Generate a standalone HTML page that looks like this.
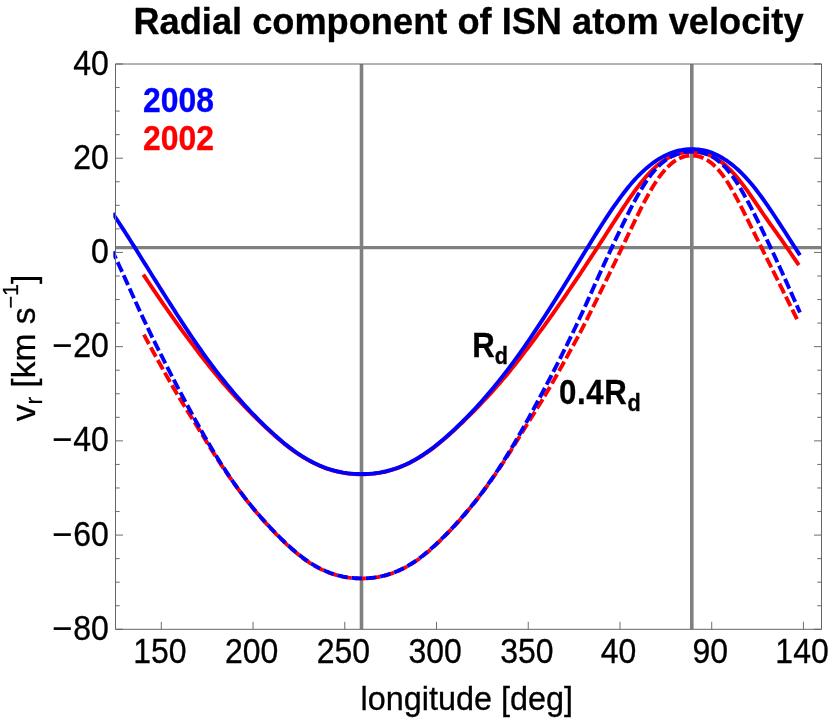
<!DOCTYPE html>
<html><head><meta charset="utf-8"><title>Radial component of ISN atom velocity</title>
<style>
html,body{margin:0;padding:0;background:#fff;}
body{width:830px;height:720px;position:relative;overflow:hidden;font-family:"Liberation Sans",sans-serif;color:#000;will-change:transform;}
svg{position:absolute;left:0;top:0;}
.t{position:absolute;line-height:1;white-space:nowrap;transform-origin:50% 84.65%;-webkit-text-stroke:0.3px currentColor;}
</style></head><body>
<svg width="830" height="720" viewBox="0 0 830 720">
<defs><clipPath id="cl"><rect x="113.3" y="0" width="720" height="720"/></clipPath></defs>
<line x1="361.50" y1="64.0" x2="361.50" y2="629.3" stroke="#808080" stroke-width="3.6"/>
<line x1="691.80" y1="64.0" x2="691.80" y2="629.3" stroke="#808080" stroke-width="3.6"/>
<line x1="115.5" y1="247.72" x2="821.5" y2="247.72" stroke="#808080" stroke-width="3.2"/>
<path d="M143.32,274.59 L145.37,277.66 L147.43,280.72 L149.48,283.77 L151.54,286.81 L153.59,289.84 L155.65,292.85 L157.70,295.86 L159.76,298.85 L161.81,301.83 L163.87,304.80 L165.92,307.76 L167.98,310.70 L170.03,313.62 L172.09,316.53 L174.14,319.42 L176.20,322.29 L178.25,325.15 L180.31,327.98 L182.36,330.80 L184.42,333.60 L186.47,336.38 L188.53,339.15 L190.58,341.90 L192.64,344.64 L194.69,347.36 L196.75,350.08 L198.80,352.78 L200.86,355.46 L202.91,358.13 L204.97,360.78 L207.02,363.41 L209.08,366.01 L211.13,368.59 L213.19,371.13 L215.24,373.64 L217.30,376.12 L219.35,378.57 L221.41,380.98 L223.46,383.37 L225.52,385.73 L227.57,388.06 L229.63,390.36 L231.68,392.64 L233.74,394.90 L235.79,397.14 L237.85,399.35 L239.90,401.54 L241.96,403.72 L244.01,405.87 L246.07,408.00 L248.12,410.11 L250.18,412.20 L252.23,414.27 L254.29,416.33 L256.34,418.36 L258.40,420.37 L260.45,422.36 L262.51,424.33 L264.56,426.28 L266.62,428.21 L268.67,430.11 L270.73,431.99 L272.78,433.85 L274.84,435.68 L276.89,437.48 L278.95,439.26 L281.00,441.00 L283.06,442.70 L285.11,444.37 L287.17,446.00 L289.22,447.59 L291.28,449.14 L293.33,450.64 L295.39,452.09 L297.44,453.51 L299.50,454.88 L301.55,456.20 L303.61,457.47 L305.66,458.70 L307.72,459.88 L309.77,461.01 L311.83,462.09 L313.88,463.12 L315.94,464.11 L317.99,465.05 L320.05,465.94 L322.10,466.78 L324.16,467.58 L326.21,468.33 L328.27,469.03 L330.32,469.69 L332.38,470.30 L334.43,470.87 L336.49,471.39 L338.54,471.86 L340.60,472.29 L342.65,472.68 L344.71,473.02 L346.76,473.32 L348.82,473.57 L350.87,473.79 L352.93,473.96 L354.98,474.10 L357.04,474.20 L359.09,474.26 L361.15,474.28 L363.20,474.27 L365.26,474.22 L367.31,474.13 L369.37,474.01 L371.42,473.85 L373.48,473.65 L375.53,473.40 L377.59,473.12 L379.64,472.79 L381.70,472.42 L383.75,472.00 L385.81,471.54 L387.86,471.03 L389.92,470.48 L391.97,469.89 L394.03,469.24 L396.08,468.55 L398.14,467.82 L400.19,467.04 L402.25,466.21 L404.30,465.33 L406.36,464.41 L408.41,463.43 L410.47,462.41 L412.52,461.35 L414.58,460.23 L416.63,459.07 L418.69,457.86 L420.74,456.60 L422.80,455.29 L424.85,453.94 L426.91,452.54 L428.96,451.09 L431.02,449.61 L433.07,448.07 L435.13,446.50 L437.18,444.88 L439.24,443.22 L441.29,441.53 L443.35,439.80 L445.40,438.04 L447.46,436.24 L449.51,434.42 L451.57,432.57 L453.62,430.69 L455.68,428.80 L457.73,426.88 L459.79,424.94 L461.84,422.97 L463.90,420.99 L465.95,418.98 L468.01,416.96 L470.06,414.91 L472.12,412.85 L474.17,410.76 L476.23,408.66 L478.28,406.53 L480.34,404.38 L482.39,402.22 L484.45,400.03 L486.50,397.82 L488.56,395.59 L490.61,393.34 L492.67,391.07 L494.72,388.77 L496.78,386.45 L498.83,384.10 L500.89,381.73 L502.94,379.32 L505.00,376.88 L507.05,374.42 L509.11,371.91 L511.16,369.38 L513.22,366.81 L515.27,364.22 L517.33,361.60 L519.38,358.95 L521.44,356.29 L523.49,353.61 L525.55,350.91 L527.60,348.20 L529.66,345.48 L531.71,342.75 L533.77,340.00 L535.82,337.24 L537.88,334.46 L539.93,331.67 L541.99,328.86 L544.04,326.03 L546.10,323.18 L548.15,320.31 L550.21,317.43 L552.26,314.52 L554.32,311.60 L556.37,308.67 L558.43,305.72 L560.48,302.75 L562.54,299.78 L564.59,296.79 L566.65,293.78 L568.70,290.77 L570.76,287.75 L572.81,284.71 L574.87,281.66 L576.92,278.61 L578.98,275.54 L581.03,272.46 L583.09,269.37 L585.14,266.27 L587.20,263.16 L589.25,260.04 L591.31,256.91 L593.36,253.77 L595.42,250.62 L597.47,247.46 L599.53,244.30 L601.58,241.12 L603.64,237.94 L605.69,234.75 L607.75,231.56 L609.80,228.37 L611.86,225.18 L613.91,222.00 L615.97,218.83 L618.02,215.67 L620.08,212.52 L622.13,209.39 L624.19,206.29 L626.24,203.22 L628.29,200.19 L630.35,197.21 L632.40,194.28 L634.46,191.41 L636.51,188.61 L638.57,185.88 L640.62,183.24 L642.68,180.67 L644.73,178.20 L646.79,175.83 L648.84,173.56 L650.90,171.39 L652.95,169.34 L655.01,167.41 L657.06,165.60 L659.12,163.91 L661.17,162.34 L663.23,160.89 L665.28,159.56 L667.34,158.34 L669.39,157.23 L671.45,156.23 L673.50,155.34 L675.56,154.56 L677.61,153.88 L679.67,153.30 L681.72,152.82 L683.78,152.44 L685.83,152.15 L687.89,151.95 L689.94,151.83 L692.00,151.80 L694.05,151.81 L696.11,151.93 L698.16,152.14 L700.22,152.45 L702.27,152.86 L704.33,153.38 L706.38,154.01 L708.44,154.74 L710.49,155.59 L712.55,156.55 L714.60,157.63 L716.66,158.82 L718.71,160.14 L720.77,161.58 L722.82,163.13 L724.88,164.82 L726.93,166.63 L728.99,168.56 L731.04,170.63 L733.10,172.81 L735.15,175.11 L737.21,177.51 L739.26,180.02 L741.32,182.62 L743.37,185.31 L745.43,188.08 L747.48,190.92 L749.54,193.83 L751.59,196.79 L753.65,199.80 L755.70,202.83 L757.76,205.88 L759.81,208.93 L761.87,211.97 L763.92,214.99 L765.98,217.97 L768.03,220.92 L770.09,223.83 L772.14,226.72 L774.20,229.60 L776.25,232.47 L778.31,235.35 L780.36,238.23 L782.42,241.14 L784.47,244.07 L786.53,247.03 L788.58,250.02 L790.64,253.02 L792.69,256.05 L794.75,259.09 L796.80,262.14 L798.86,265.19" fill="none" stroke="#ff0000" stroke-width="3.9"/>
<path d="M143.32,333.54 L145.37,337.41 L147.43,341.24 L149.48,345.02 L151.54,348.77 L153.59,352.50 L155.65,356.20 L157.70,359.90 L159.76,363.58 L161.81,367.26 L163.87,370.93 L165.92,374.59 L167.98,378.23 L170.03,381.84 L172.09,385.43 L174.14,388.98 L176.20,392.48 L178.25,395.94 L180.31,399.35 L182.36,402.72 L184.42,406.05 L186.47,409.36 L188.53,412.65 L190.58,415.93 L192.64,419.20 L194.69,422.49 L196.75,425.80 L198.80,429.12 L200.86,432.46 L202.91,435.80 L204.97,439.15 L207.02,442.49 L209.08,445.81 L211.13,449.12 L213.19,452.39 L215.24,455.63 L217.30,458.83 L219.35,461.98 L221.41,465.10 L223.46,468.18 L225.52,471.22 L227.57,474.22 L229.63,477.19 L231.68,480.12 L233.74,483.02 L235.79,485.88 L237.85,488.70 L239.90,491.49 L241.96,494.23 L244.01,496.94 L246.07,499.61 L248.12,502.23 L250.18,504.81 L252.23,507.34 L254.29,509.83 L256.34,512.27 L258.40,514.68 L260.45,517.04 L262.51,519.37 L264.56,521.66 L266.62,523.92 L268.67,526.15 L270.73,528.34 L272.78,530.52 L274.84,532.66 L276.89,534.77 L278.95,536.85 L281.00,538.89 L283.06,540.90 L285.11,542.87 L287.17,544.80 L289.22,546.69 L291.28,548.54 L293.33,550.34 L295.39,552.10 L297.44,553.80 L299.50,555.46 L301.55,557.05 L303.61,558.59 L305.66,560.07 L307.72,561.48 L309.77,562.83 L311.83,564.12 L313.88,565.35 L315.94,566.51 L317.99,567.62 L320.05,568.66 L322.10,569.66 L324.16,570.59 L326.21,571.47 L328.27,572.30 L330.32,573.07 L332.38,573.79 L334.43,574.46 L336.49,575.07 L338.54,575.63 L340.60,576.13 L342.65,576.58 L344.71,576.98 L346.76,577.33 L348.82,577.63 L350.87,577.88 L352.93,578.08 L354.98,578.23 L357.04,578.35 L359.09,578.41 L361.15,578.44 L363.20,578.43 L365.26,578.37 L367.31,578.27 L369.37,578.13 L371.42,577.95 L373.48,577.71 L375.53,577.43 L377.59,577.10 L379.64,576.71 L381.70,576.28 L383.75,575.79 L385.81,575.25 L387.86,574.65 L389.92,574.00 L391.97,573.30 L394.03,572.54 L396.08,571.73 L398.14,570.87 L400.19,569.95 L402.25,568.98 L404.30,567.95 L406.36,566.86 L408.41,565.71 L410.47,564.51 L412.52,563.24 L414.58,561.91 L416.63,560.51 L418.69,559.06 L420.74,557.54 L422.80,555.96 L424.85,554.32 L426.91,552.63 L428.96,550.89 L431.02,549.10 L433.07,547.27 L435.13,545.39 L437.18,543.47 L439.24,541.51 L441.29,539.51 L443.35,537.48 L445.40,535.41 L447.46,533.31 L449.51,531.18 L451.57,529.02 L453.62,526.83 L455.68,524.61 L457.73,522.36 L459.79,520.08 L461.84,517.76 L463.90,515.41 L465.95,513.02 L468.01,510.59 L470.06,508.12 L472.12,505.60 L474.17,503.03 L476.23,500.42 L478.28,497.77 L480.34,495.08 L482.39,492.34 L484.45,489.57 L486.50,486.75 L488.56,483.90 L490.61,481.02 L492.67,478.10 L494.72,475.15 L496.78,472.15 L498.83,469.12 L500.89,466.06 L502.94,462.95 L505.00,459.81 L507.05,456.62 L509.11,453.40 L511.16,450.13 L513.22,446.84 L515.27,443.52 L517.33,440.19 L519.38,436.84 L521.44,433.49 L523.49,430.15 L525.55,426.82 L527.60,423.51 L529.66,420.22 L531.71,416.94 L533.77,413.66 L535.82,410.38 L537.88,407.08 L539.93,403.75 L541.99,400.40 L544.04,397.00 L546.10,393.56 L548.15,390.07 L550.21,386.53 L552.26,382.96 L554.32,379.35 L556.37,375.72 L558.43,372.06 L560.48,368.40 L562.54,364.72 L564.59,361.04 L566.65,357.35 L568.70,353.65 L570.76,349.93 L572.81,346.19 L574.87,342.41 L576.92,338.60 L578.98,334.74 L581.03,330.84 L583.09,326.88 L585.14,322.86 L587.20,318.80 L589.25,314.70 L591.31,310.57 L593.36,306.42 L595.42,302.24 L597.47,298.06 L599.53,293.87 L601.58,289.69 L603.64,285.50 L605.69,281.32 L607.75,277.13 L609.80,272.94 L611.86,268.73 L613.91,264.51 L615.97,260.27 L618.02,256.01 L620.08,251.73 L622.13,247.42 L624.19,243.11 L626.24,238.79 L628.29,234.48 L630.35,230.18 L632.40,225.90 L634.46,221.65 L636.51,217.44 L638.57,213.27 L640.62,209.16 L642.68,205.12 L644.73,201.17 L646.79,197.32 L648.84,193.59 L650.90,189.99 L652.95,186.54 L655.01,183.25 L657.06,180.14 L659.12,177.20 L661.17,174.45 L663.23,171.88 L665.28,169.50 L667.34,167.31 L669.39,165.31 L671.45,163.50 L673.50,161.90 L675.56,160.49 L677.61,159.27 L679.67,158.24 L681.72,157.39 L683.78,156.71 L685.83,156.20 L687.89,155.85 L689.94,155.65 L692.00,155.60 L694.05,155.69 L696.11,155.93 L698.16,156.32 L700.22,156.87 L702.27,157.59 L704.33,158.49 L706.38,159.58 L708.44,160.85 L710.49,162.33 L712.55,164.01 L714.60,165.89 L716.66,167.97 L718.71,170.25 L720.77,172.73 L722.82,175.41 L724.88,178.27 L726.93,181.33 L728.99,184.58 L731.04,188.01 L733.10,191.60 L735.15,195.33 L737.21,199.18 L739.26,203.13 L741.32,207.16 L743.37,211.24 L745.43,215.36 L747.48,219.49 L749.54,223.62 L751.59,227.75 L753.65,231.88 L755.70,236.01 L757.76,240.14 L759.81,244.27 L761.87,248.40 L763.92,252.52 L765.98,256.64 L768.03,260.76 L770.09,264.88 L772.14,269.00 L774.20,273.12 L776.25,277.25 L778.31,281.38 L780.36,285.52 L782.42,289.67 L784.47,293.83 L786.53,297.99 L788.58,302.15 L790.64,306.31 L792.69,310.45 L794.75,314.56 L796.80,318.65 L798.86,322.69" fill="none" stroke="#ff0000" stroke-width="3.9" stroke-dasharray="10.7 3.77" stroke-dashoffset="13.27"/>
<path d="M112.68,213.29 L114.83,216.49 L116.99,219.73 L119.14,223.01 L121.30,226.32 L123.45,229.65 L125.61,233.01 L127.76,236.40 L129.92,239.80 L132.07,243.21 L134.23,246.64 L136.38,250.08 L138.53,253.53 L140.69,256.98 L142.84,260.43 L145.00,263.89 L147.15,267.34 L149.31,270.79 L151.46,274.24 L153.62,277.68 L155.77,281.12 L157.92,284.55 L160.08,287.97 L162.23,291.38 L164.39,294.78 L166.54,298.17 L168.70,301.55 L170.85,304.92 L173.01,308.27 L175.16,311.61 L177.31,314.94 L179.47,318.26 L181.62,321.57 L183.78,324.86 L185.93,328.12 L188.09,331.36 L190.24,334.58 L192.40,337.77 L194.55,340.93 L196.71,344.06 L198.86,347.17 L201.01,350.24 L203.17,353.28 L205.32,356.29 L207.48,359.27 L209.63,362.21 L211.79,365.11 L213.94,367.98 L216.10,370.81 L218.25,373.61 L220.40,376.36 L222.56,379.08 L224.71,381.77 L226.87,384.42 L229.02,387.04 L231.18,389.62 L233.33,392.18 L235.49,394.70 L237.64,397.19 L239.79,399.65 L241.95,402.08 L244.10,404.47 L246.26,406.83 L248.41,409.16 L250.57,411.46 L252.72,413.72 L254.88,415.95 L257.03,418.15 L259.18,420.31 L261.34,422.45 L263.49,424.55 L265.65,426.63 L267.80,428.67 L269.96,430.69 L272.11,432.68 L274.27,434.64 L276.42,436.56 L278.58,438.45 L280.73,440.31 L282.88,442.12 L285.04,443.89 L287.19,445.62 L289.35,447.29 L291.50,448.92 L293.66,450.50 L295.81,452.03 L297.97,453.52 L300.12,454.95 L302.27,456.33 L304.43,457.66 L306.58,458.93 L308.74,460.16 L310.89,461.33 L313.05,462.45 L315.20,463.52 L317.36,464.53 L319.51,465.49 L321.66,466.40 L323.82,467.25 L325.97,468.05 L328.13,468.79 L330.28,469.49 L332.44,470.13 L334.59,470.72 L336.75,471.26 L338.90,471.74 L341.06,472.18 L343.21,472.58 L345.36,472.92 L347.52,473.22 L349.67,473.47 L351.83,473.67 L353.98,473.84 L356.14,473.96 L358.29,474.04 L360.45,474.08 L362.60,474.07 L364.75,474.03 L366.91,473.95 L369.06,473.83 L371.22,473.66 L373.37,473.46 L375.53,473.20 L377.68,472.90 L379.84,472.56 L381.99,472.16 L384.14,471.72 L386.30,471.23 L388.45,470.69 L390.61,470.10 L392.76,469.45 L394.92,468.76 L397.07,468.01 L399.23,467.21 L401.38,466.35 L403.54,465.44 L405.69,464.48 L407.84,463.46 L410.00,462.39 L412.15,461.27 L414.31,460.09 L416.46,458.87 L418.62,457.59 L420.77,456.26 L422.93,454.87 L425.08,453.44 L427.23,451.95 L429.39,450.42 L431.54,448.84 L433.70,447.21 L435.85,445.53 L438.01,443.80 L440.16,442.02 L442.32,440.21 L444.47,438.36 L446.62,436.46 L448.78,434.54 L450.93,432.58 L453.09,430.58 L455.24,428.57 L457.40,426.52 L459.55,424.44 L461.71,422.34 L463.86,420.20 L466.01,418.03 L468.17,415.83 L470.32,413.60 L472.48,411.34 L474.63,409.04 L476.79,406.71 L478.94,404.34 L481.10,401.95 L483.25,399.52 L485.41,397.06 L487.56,394.57 L489.71,392.04 L491.87,389.49 L494.02,386.90 L496.18,384.28 L498.33,381.63 L500.49,378.94 L502.64,376.22 L504.80,373.46 L506.95,370.66 L509.10,367.83 L511.26,364.96 L513.41,362.05 L515.57,359.11 L517.72,356.13 L519.88,353.12 L522.03,350.08 L524.19,347.01 L526.34,343.90 L528.49,340.76 L530.65,337.60 L532.80,334.41 L534.96,331.19 L537.11,327.95 L539.27,324.69 L541.42,321.40 L543.58,318.09 L545.73,314.76 L547.89,311.41 L550.04,308.04 L552.19,304.66 L554.35,301.26 L556.50,297.84 L558.66,294.41 L560.81,290.96 L562.97,287.50 L565.12,284.03 L567.28,280.54 L569.43,277.05 L571.58,273.55 L573.74,270.04 L575.89,266.52 L578.05,263.01 L580.20,259.49 L582.36,255.97 L584.51,252.46 L586.67,248.95 L588.82,245.45 L590.97,241.96 L593.13,238.48 L595.28,235.03 L597.44,231.59 L599.59,228.19 L601.75,224.80 L603.90,221.46 L606.06,218.14 L608.21,214.87 L610.36,211.65 L612.52,208.47 L614.67,205.35 L616.83,202.29 L618.98,199.29 L621.14,196.36 L623.29,193.50 L625.45,190.71 L627.60,188.01 L629.76,185.38 L631.91,182.85 L634.06,180.40 L636.22,178.04 L638.37,175.78 L640.53,173.62 L642.68,171.56 L644.84,169.58 L646.99,167.71 L649.15,165.92 L651.30,164.23 L653.45,162.63 L655.61,161.11 L657.76,159.69 L659.92,158.36 L662.07,157.11 L664.23,155.96 L666.38,154.90 L668.54,153.93 L670.69,153.06 L672.84,152.27 L675.00,151.59 L677.15,150.99 L679.31,150.49 L681.46,150.07 L683.62,149.74 L685.77,149.49 L687.93,149.31 L690.08,149.22 L692.24,149.19 L694.39,149.22 L696.54,149.33 L698.70,149.53 L700.85,149.82 L703.01,150.20 L705.16,150.67 L707.32,151.24 L709.47,151.90 L711.63,152.67 L713.78,153.53 L715.93,154.49 L718.09,155.55 L720.24,156.70 L722.40,157.95 L724.55,159.29 L726.71,160.72 L728.86,162.25 L731.02,163.87 L733.17,165.57 L735.32,167.38 L737.48,169.27 L739.63,171.27 L741.79,173.36 L743.94,175.55 L746.10,177.84 L748.25,180.24 L750.41,182.73 L752.56,185.32 L754.72,188.00 L756.87,190.76 L759.02,193.61 L761.18,196.52 L763.33,199.51 L765.49,202.55 L767.64,205.66 L769.80,208.81 L771.95,212.01 L774.11,215.25 L776.26,218.52 L778.41,221.82 L780.57,225.13 L782.72,228.46 L784.88,231.79 L787.03,235.13 L789.19,238.48 L791.34,241.82 L793.50,245.18 L795.65,248.54 L797.80,251.91 L799.96,255.28" fill="none" stroke="#0000ff" stroke-width="3.9" clip-path="url(#cl)"/>
<path d="M112.68,251.63 L114.83,256.22 L116.99,260.84 L119.14,265.49 L121.30,270.18 L123.45,274.89 L125.61,279.64 L127.76,284.42 L129.92,289.20 L132.07,293.99 L134.23,298.77 L136.38,303.53 L138.53,308.25 L140.69,312.94 L142.84,317.57 L145.00,322.14 L147.15,326.67 L149.31,331.15 L151.46,335.59 L153.62,339.98 L155.77,344.34 L157.92,348.67 L160.08,352.97 L162.23,357.24 L164.39,361.48 L166.54,365.70 L168.70,369.90 L170.85,374.08 L173.01,378.25 L175.16,382.39 L177.31,386.53 L179.47,390.62 L181.62,394.69 L183.78,398.73 L185.93,402.75 L188.09,406.75 L190.24,410.72 L192.40,414.66 L194.55,418.57 L196.71,422.46 L198.86,426.32 L201.01,430.15 L203.17,433.94 L205.32,437.69 L207.48,441.41 L209.63,445.08 L211.79,448.71 L213.94,452.29 L216.10,455.82 L218.25,459.30 L220.40,462.72 L222.56,466.10 L224.71,469.42 L226.87,472.69 L229.02,475.90 L231.18,479.05 L233.33,482.15 L235.49,485.19 L237.64,488.18 L239.79,491.11 L241.95,493.99 L244.10,496.81 L246.26,499.59 L248.41,502.32 L250.57,505.00 L252.72,507.63 L254.88,510.22 L257.03,512.76 L259.18,515.27 L261.34,517.73 L263.49,520.16 L265.65,522.54 L267.80,524.90 L269.96,527.22 L272.11,529.51 L274.27,531.77 L276.42,533.99 L278.58,536.18 L280.73,538.33 L282.88,540.44 L285.04,542.50 L287.19,544.52 L289.35,546.50 L291.50,548.43 L293.66,550.31 L295.81,552.13 L297.97,553.91 L300.12,555.62 L302.27,557.28 L304.43,558.88 L306.58,560.41 L308.74,561.88 L310.89,563.28 L313.05,564.62 L315.20,565.90 L317.36,567.10 L319.51,568.25 L321.66,569.32 L323.82,570.33 L325.97,571.28 L328.13,572.16 L330.28,572.98 L332.44,573.73 L334.59,574.42 L336.75,575.06 L338.90,575.63 L341.06,576.14 L343.21,576.60 L345.36,577.00 L347.52,577.34 L349.67,577.63 L351.83,577.87 L353.98,578.06 L356.14,578.20 L358.29,578.29 L360.45,578.33 L362.60,578.33 L364.75,578.29 L366.91,578.19 L369.06,578.05 L371.22,577.86 L373.37,577.62 L375.53,577.33 L377.68,576.98 L379.84,576.58 L381.99,576.12 L384.14,575.60 L386.30,575.02 L388.45,574.39 L390.61,573.69 L392.76,572.94 L394.92,572.12 L397.07,571.23 L399.23,570.28 L401.38,569.27 L403.54,568.19 L405.69,567.04 L407.84,565.83 L410.00,564.55 L412.15,563.21 L414.31,561.80 L416.46,560.33 L418.62,558.79 L420.77,557.19 L422.93,555.53 L425.08,553.81 L427.23,552.04 L429.39,550.21 L431.54,548.33 L433.70,546.40 L435.85,544.42 L438.01,542.39 L440.16,540.33 L442.32,538.22 L444.47,536.07 L446.62,533.88 L448.78,531.65 L450.93,529.39 L453.09,527.10 L455.24,524.78 L457.40,522.42 L459.55,520.03 L461.71,517.60 L463.86,515.13 L466.01,512.63 L468.17,510.08 L470.32,507.49 L472.48,504.86 L474.63,502.17 L476.79,499.44 L478.94,496.67 L481.10,493.84 L483.25,490.96 L485.41,488.02 L487.56,485.03 L489.71,481.99 L491.87,478.89 L494.02,475.73 L496.18,472.51 L498.33,469.24 L500.49,465.92 L502.64,462.54 L504.80,459.11 L506.95,455.63 L509.10,452.10 L511.26,448.52 L513.41,444.89 L515.57,441.21 L517.72,437.49 L519.88,433.74 L522.03,429.94 L524.19,426.12 L526.34,422.26 L528.49,418.37 L530.65,414.45 L532.80,410.51 L534.96,406.53 L537.11,402.54 L539.27,398.52 L541.42,394.47 L543.58,390.41 L545.73,386.32 L547.89,382.21 L550.04,378.08 L552.19,373.92 L554.35,369.74 L556.50,365.53 L558.66,361.30 L560.81,357.04 L562.97,352.74 L565.12,348.42 L567.28,344.06 L569.43,339.67 L571.58,335.23 L573.74,330.76 L575.89,326.24 L578.05,321.67 L580.20,317.05 L582.36,312.38 L584.51,307.65 L586.67,302.89 L588.82,298.09 L590.97,293.28 L593.13,288.45 L595.28,283.64 L597.44,278.83 L599.59,274.05 L601.75,269.30 L603.90,264.59 L606.06,259.92 L608.21,255.27 L610.36,250.66 L612.52,246.06 L614.67,241.50 L616.83,236.95 L618.98,232.43 L621.14,227.92 L623.29,223.45 L625.45,219.03 L627.60,214.68 L629.76,210.39 L631.91,206.20 L634.06,202.11 L636.22,198.13 L638.37,194.28 L640.53,190.57 L642.68,187.01 L644.84,183.60 L646.99,180.36 L649.15,177.29 L651.30,174.41 L653.45,171.71 L655.61,169.22 L657.76,166.92 L659.92,164.82 L662.07,162.91 L664.23,161.18 L666.38,159.61 L668.54,158.21 L670.69,156.95 L672.84,155.85 L675.00,154.87 L677.15,154.03 L679.31,153.32 L681.46,152.73 L683.62,152.26 L685.77,151.90 L687.93,151.66 L690.08,151.53 L692.24,151.49 L694.39,151.50 L696.54,151.64 L698.70,151.92 L700.85,152.32 L703.01,152.86 L705.16,153.53 L707.32,154.35 L709.47,155.31 L711.63,156.42 L713.78,157.68 L715.93,159.10 L718.09,160.69 L720.24,162.46 L722.40,164.41 L724.55,166.55 L726.71,168.89 L728.86,171.44 L731.02,174.19 L733.17,177.15 L735.32,180.29 L737.48,183.60 L739.63,187.07 L741.79,190.69 L743.94,194.44 L746.10,198.31 L748.25,202.29 L750.41,206.37 L752.56,210.53 L754.72,214.77 L756.87,219.08 L759.02,223.45 L761.18,227.87 L763.33,232.33 L765.49,236.82 L767.64,241.33 L769.80,245.87 L771.95,250.44 L774.11,255.04 L776.26,259.68 L778.41,264.34 L780.57,269.05 L782.72,273.80 L784.88,278.59 L787.03,283.41 L789.19,288.26 L791.34,293.12 L793.50,297.98 L795.65,302.82 L797.80,307.64 L799.96,312.43" fill="none" stroke="#0000ff" stroke-width="3.9" stroke-dasharray="10.7 3.77" stroke-dashoffset="2.85" clip-path="url(#cl)"/>
<line x1="115.5" y1="64.0" x2="115.5" y2="629.3" stroke="#666666" stroke-width="1"/>
<line x1="821.5" y1="64.0" x2="821.5" y2="629.3" stroke="#666666" stroke-width="1"/>
<line x1="115.5" y1="64.0" x2="821.5" y2="64.0" stroke="#666666" stroke-width="1"/>
<line x1="115.5" y1="629.3" x2="821.5" y2="629.3" stroke="#666666" stroke-width="1"/>
<line x1="115.5" y1="629.31" x2="123.0" y2="629.31" stroke="#5c5c5c" stroke-width="0.9"/>
<line x1="821.5" y1="629.31" x2="814.0" y2="629.31" stroke="#5c5c5c" stroke-width="0.9"/>
<line x1="115.5" y1="605.76" x2="119.7" y2="605.76" stroke="#5c5c5c" stroke-width="0.9"/>
<line x1="821.5" y1="605.76" x2="817.3" y2="605.76" stroke="#5c5c5c" stroke-width="0.9"/>
<line x1="115.5" y1="582.20" x2="119.7" y2="582.20" stroke="#5c5c5c" stroke-width="0.9"/>
<line x1="821.5" y1="582.20" x2="817.3" y2="582.20" stroke="#5c5c5c" stroke-width="0.9"/>
<line x1="115.5" y1="558.64" x2="119.7" y2="558.64" stroke="#5c5c5c" stroke-width="0.9"/>
<line x1="821.5" y1="558.64" x2="817.3" y2="558.64" stroke="#5c5c5c" stroke-width="0.9"/>
<line x1="115.5" y1="535.09" x2="123.0" y2="535.09" stroke="#5c5c5c" stroke-width="0.9"/>
<line x1="821.5" y1="535.09" x2="814.0" y2="535.09" stroke="#5c5c5c" stroke-width="0.9"/>
<line x1="115.5" y1="511.54" x2="119.7" y2="511.54" stroke="#5c5c5c" stroke-width="0.9"/>
<line x1="821.5" y1="511.54" x2="817.3" y2="511.54" stroke="#5c5c5c" stroke-width="0.9"/>
<line x1="115.5" y1="487.98" x2="119.7" y2="487.98" stroke="#5c5c5c" stroke-width="0.9"/>
<line x1="821.5" y1="487.98" x2="817.3" y2="487.98" stroke="#5c5c5c" stroke-width="0.9"/>
<line x1="115.5" y1="464.43" x2="119.7" y2="464.43" stroke="#5c5c5c" stroke-width="0.9"/>
<line x1="821.5" y1="464.43" x2="817.3" y2="464.43" stroke="#5c5c5c" stroke-width="0.9"/>
<line x1="115.5" y1="440.87" x2="123.0" y2="440.87" stroke="#5c5c5c" stroke-width="0.9"/>
<line x1="821.5" y1="440.87" x2="814.0" y2="440.87" stroke="#5c5c5c" stroke-width="0.9"/>
<line x1="115.5" y1="417.32" x2="119.7" y2="417.32" stroke="#5c5c5c" stroke-width="0.9"/>
<line x1="821.5" y1="417.32" x2="817.3" y2="417.32" stroke="#5c5c5c" stroke-width="0.9"/>
<line x1="115.5" y1="393.76" x2="119.7" y2="393.76" stroke="#5c5c5c" stroke-width="0.9"/>
<line x1="821.5" y1="393.76" x2="817.3" y2="393.76" stroke="#5c5c5c" stroke-width="0.9"/>
<line x1="115.5" y1="370.21" x2="119.7" y2="370.21" stroke="#5c5c5c" stroke-width="0.9"/>
<line x1="821.5" y1="370.21" x2="817.3" y2="370.21" stroke="#5c5c5c" stroke-width="0.9"/>
<line x1="115.5" y1="346.65" x2="123.0" y2="346.65" stroke="#5c5c5c" stroke-width="0.9"/>
<line x1="821.5" y1="346.65" x2="814.0" y2="346.65" stroke="#5c5c5c" stroke-width="0.9"/>
<line x1="115.5" y1="323.10" x2="119.7" y2="323.10" stroke="#5c5c5c" stroke-width="0.9"/>
<line x1="821.5" y1="323.10" x2="817.3" y2="323.10" stroke="#5c5c5c" stroke-width="0.9"/>
<line x1="115.5" y1="299.54" x2="119.7" y2="299.54" stroke="#5c5c5c" stroke-width="0.9"/>
<line x1="821.5" y1="299.54" x2="817.3" y2="299.54" stroke="#5c5c5c" stroke-width="0.9"/>
<line x1="115.5" y1="275.99" x2="119.7" y2="275.99" stroke="#5c5c5c" stroke-width="0.9"/>
<line x1="821.5" y1="275.99" x2="817.3" y2="275.99" stroke="#5c5c5c" stroke-width="0.9"/>
<line x1="115.5" y1="252.43" x2="123.0" y2="252.43" stroke="#5c5c5c" stroke-width="0.9"/>
<line x1="821.5" y1="252.43" x2="814.0" y2="252.43" stroke="#5c5c5c" stroke-width="0.9"/>
<line x1="115.5" y1="228.88" x2="119.7" y2="228.88" stroke="#5c5c5c" stroke-width="0.9"/>
<line x1="821.5" y1="228.88" x2="817.3" y2="228.88" stroke="#5c5c5c" stroke-width="0.9"/>
<line x1="115.5" y1="205.32" x2="119.7" y2="205.32" stroke="#5c5c5c" stroke-width="0.9"/>
<line x1="821.5" y1="205.32" x2="817.3" y2="205.32" stroke="#5c5c5c" stroke-width="0.9"/>
<line x1="115.5" y1="181.76" x2="119.7" y2="181.76" stroke="#5c5c5c" stroke-width="0.9"/>
<line x1="821.5" y1="181.76" x2="817.3" y2="181.76" stroke="#5c5c5c" stroke-width="0.9"/>
<line x1="115.5" y1="158.21" x2="123.0" y2="158.21" stroke="#5c5c5c" stroke-width="0.9"/>
<line x1="821.5" y1="158.21" x2="814.0" y2="158.21" stroke="#5c5c5c" stroke-width="0.9"/>
<line x1="115.5" y1="134.66" x2="119.7" y2="134.66" stroke="#5c5c5c" stroke-width="0.9"/>
<line x1="821.5" y1="134.66" x2="817.3" y2="134.66" stroke="#5c5c5c" stroke-width="0.9"/>
<line x1="115.5" y1="111.10" x2="119.7" y2="111.10" stroke="#5c5c5c" stroke-width="0.9"/>
<line x1="821.5" y1="111.10" x2="817.3" y2="111.10" stroke="#5c5c5c" stroke-width="0.9"/>
<line x1="115.5" y1="87.54" x2="119.7" y2="87.54" stroke="#5c5c5c" stroke-width="0.9"/>
<line x1="821.5" y1="87.54" x2="817.3" y2="87.54" stroke="#5c5c5c" stroke-width="0.9"/>
<line x1="115.5" y1="63.99" x2="123.0" y2="63.99" stroke="#5c5c5c" stroke-width="0.9"/>
<line x1="821.5" y1="63.99" x2="814.0" y2="63.99" stroke="#5c5c5c" stroke-width="0.9"/>
<line x1="161.30" y1="629.3" x2="161.30" y2="621.8" stroke="#5c5c5c" stroke-width="0.9"/>
<line x1="253.04" y1="629.3" x2="253.04" y2="621.8" stroke="#5c5c5c" stroke-width="0.9"/>
<line x1="344.77" y1="629.3" x2="344.77" y2="621.8" stroke="#5c5c5c" stroke-width="0.9"/>
<line x1="436.50" y1="629.3" x2="436.50" y2="621.8" stroke="#5c5c5c" stroke-width="0.9"/>
<line x1="528.24" y1="629.3" x2="528.24" y2="621.8" stroke="#5c5c5c" stroke-width="0.9"/>
<line x1="619.98" y1="629.3" x2="619.98" y2="621.8" stroke="#5c5c5c" stroke-width="0.9"/>
<line x1="711.71" y1="629.3" x2="711.71" y2="621.8" stroke="#5c5c5c" stroke-width="0.9"/>
<line x1="803.44" y1="629.3" x2="803.44" y2="621.8" stroke="#5c5c5c" stroke-width="0.9"/>
</svg>
<div class="t" style="top:635.91px;font-size:32px;left:-40.10px;width:400px;text-align:center;transform:scaleY(1.07);">150</div>
<div class="t" style="top:635.91px;font-size:32px;left:51.64px;width:400px;text-align:center;transform:scaleY(1.07);">200</div>
<div class="t" style="top:635.91px;font-size:32px;left:143.37px;width:400px;text-align:center;transform:scaleY(1.07);">250</div>
<div class="t" style="top:635.91px;font-size:32px;left:235.11px;width:400px;text-align:center;transform:scaleY(1.07);">300</div>
<div class="t" style="top:635.91px;font-size:32px;left:326.84px;width:400px;text-align:center;transform:scaleY(1.07);">350</div>
<div class="t" style="top:635.91px;font-size:32px;left:418.58px;width:400px;text-align:center;transform:scaleY(1.07);">40</div>
<div class="t" style="top:635.91px;font-size:32px;left:510.31px;width:400px;text-align:center;transform:scaleY(1.07);">90</div>
<div class="t" style="top:635.91px;font-size:32px;left:602.04px;width:400px;text-align:center;transform:scaleY(1.07);">140</div>
<div class="t" style="top:612.92px;font-size:32px;left:-291.10px;width:400px;text-align:right;transform:scaleY(1.08);"><span style="display:inline-block;transform:translateX(-2.3px) scaleX(1.08)">−</span>80</div>
<div class="t" style="top:518.70px;font-size:32px;left:-291.10px;width:400px;text-align:right;transform:scaleY(1.08);"><span style="display:inline-block;transform:translateX(-2.3px) scaleX(1.08)">−</span>60</div>
<div class="t" style="top:424.48px;font-size:32px;left:-291.10px;width:400px;text-align:right;transform:scaleY(1.08);"><span style="display:inline-block;transform:translateX(-2.3px) scaleX(1.08)">−</span>40</div>
<div class="t" style="top:330.26px;font-size:32px;left:-291.10px;width:400px;text-align:right;transform:scaleY(1.08);"><span style="display:inline-block;transform:translateX(-2.3px) scaleX(1.08)">−</span>20</div>
<div class="t" style="top:236.04px;font-size:32px;left:-291.10px;width:400px;text-align:right;transform:scaleY(1.08);">0</div>
<div class="t" style="top:141.82px;font-size:32px;left:-291.10px;width:400px;text-align:right;transform:scaleY(1.08);">20</div>
<div class="t" style="top:47.60px;font-size:32px;left:-291.10px;width:400px;text-align:right;transform:scaleY(1.08);">40</div>
<div class="t" style="top:3.64px;font-size:36.22px;left:133.40px;font-weight:bold;">Radial component of ISN atom velocity</div>
<div class="t" style="top:682.67px;font-size:32.4px;left:360.60px;transform:scaleY(1.015);">longitude [deg]</div>
<div class="t" style="top:86.19px;font-size:31.85px;left:143.00px;transform:scaleY(1.115);font-weight:bold;color:#0000ff;">2008</div>
<div class="t" style="top:124.14px;font-size:31.85px;left:143.00px;transform:scaleY(1.115);font-weight:bold;color:#ff0000;">2002</div>
<div class="t" style="top:331.29px;font-size:31.2px;left:472.20px;transform:scaleY(1.1);font-weight:bold;">R<span style="font-size:21.6px;position:relative;top:5.5px">d</span></div>
<div class="t" style="top:378.19px;font-size:31.2px;left:558.90px;transform:scaleY(1.1);font-weight:bold;letter-spacing:0.7px;">0.4R<span style="font-size:21.6px;position:relative;top:5.5px">d</span></div>
<div class="t" style="left:34.80px;top:393.14px;font-size:33.5px;transform-origin:0 84.65%;transform:rotate(-90deg) scaleY(1.0);word-spacing:0px;">v<span style="font-size:23px;position:relative;top:6.5px">r</span> [km s<span style="font-size:21.6px;position:relative;top:-17.2px;margin-left:-1px">−1</span>]</div>
</body></html>
